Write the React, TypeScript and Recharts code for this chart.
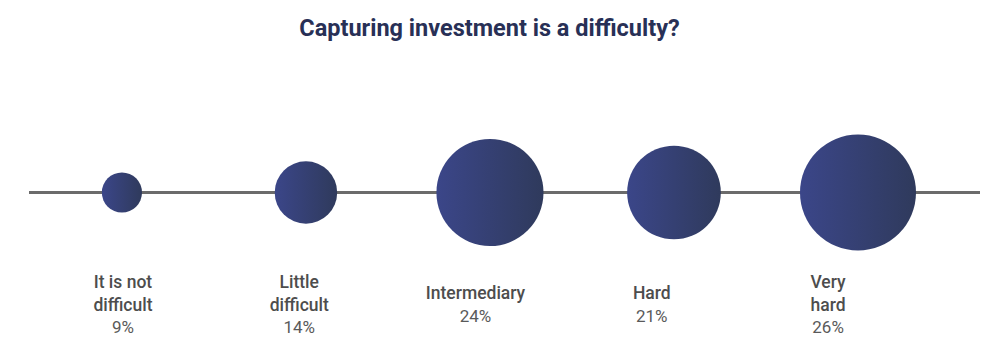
import React from "react";
import { ScatterChart, Scatter, XAxis, YAxis, ZAxis, ReferenceLine } from "recharts";

const categories = ["It is not difficult", "Little difficult", "Intermediary", "Hard", "Very hard"];
const tickLabels: string[][] = [["It is not", "difficult"], ["Little", "difficult"], ["Intermediary"], ["Hard"], ["Very", "hard"]];
const percentages = [9, 14, 24, 21, 26];
const title = "Capturing investment is a difficulty?";

const data = categories.map((name, i) => ({ idx: i, y: 0, value: percentages[i], name }));

const W = 1000;
const H = 352;

const Bubble = (props: any) => {
  const { cx, cy, size, width } = props;
  const r = typeof size === "number" ? size : width / 2;
  return <circle cx={cx} cy={cy} r={r} fill="url(#bubbleGrad)" />;
};

const LabelTick = (props: any) => {
  const { x, y, payload } = props;
  const i = Math.round(payload.value);
  if (i < 0 || i >= tickLabels.length) return null;
  const lines = tickLabels[i];
  const n = lines.length + 1;
  const lh = 22.5;
  const center = y - 10.5;
  const yOf = (k: number) => center + (k - (n - 1) / 2) * lh;
  return (
    <g>
      {lines.map((ln, k) => (
        <text key={k} x={x} y={yOf(k)} textAnchor="middle" dominantBaseline="central"
          fontFamily="Roboto, sans-serif" fontSize={17.5} fontWeight={500} fill="#4d4d4d">{ln}</text>
      ))}
      <text x={x} y={yOf(lines.length)} textAnchor="middle" dominantBaseline="central"
        fontFamily="Roboto, sans-serif" fontSize={17} fontWeight={400} fill="#5a5a5a">{percentages[i]}%</text>
    </g>
  );
};

export default function App() {
  return (
    <div style={{ position: "absolute", left: 0, top: 0, width: W, height: H, background: "#fff" }}>
      <div style={{ position: "absolute", left: 0, top: 14, width: 979, textAlign: "center",
        fontFamily: "Roboto, sans-serif", fontWeight: 700, fontSize: 23.5, color: "#283056", lineHeight: "28px" }}>
        {title}
      </div>
      <ScatterChart width={W} height={H} margin={{ top: 100, right: 20, bottom: 7, left: 29 }}>
        <defs>
          <linearGradient id="bubbleGrad" x1="0" y1="0" x2="1" y2="0">
            <stop offset="0" stopColor="#3b4689" />
            <stop offset="1" stopColor="#2f3a5c" />
          </linearGradient>
        </defs>
        <XAxis xAxisId="bubble" type="number" dataKey="idx" domain={[-0.505, 4.663]} allowDataOverflow hide />
        <XAxis xAxisId="label" type="number" dataKey="idx" domain={[-0.533, 4.862]} allowDataOverflow
          ticks={[0, 1, 2, 3, 4]} interval={0} axisLine={false} tickLine={false} tickSize={0} tickMargin={0}
          height={60} tick={<LabelTick />} />
        <YAxis type="number" dataKey="y" domain={[-1, 1]} allowDataOverflow hide />
        <ZAxis type="number" dataKey="value" domain={[0, 26]} range={[0, 58]} />
        <ReferenceLine xAxisId="bubble" y={0} stroke="#6b6b6b" strokeWidth={3} />
        <Scatter xAxisId="bubble" data={data} shape={<Bubble />} isAnimationActive={false} />
      </ScatterChart>
    </div>
  );
}
